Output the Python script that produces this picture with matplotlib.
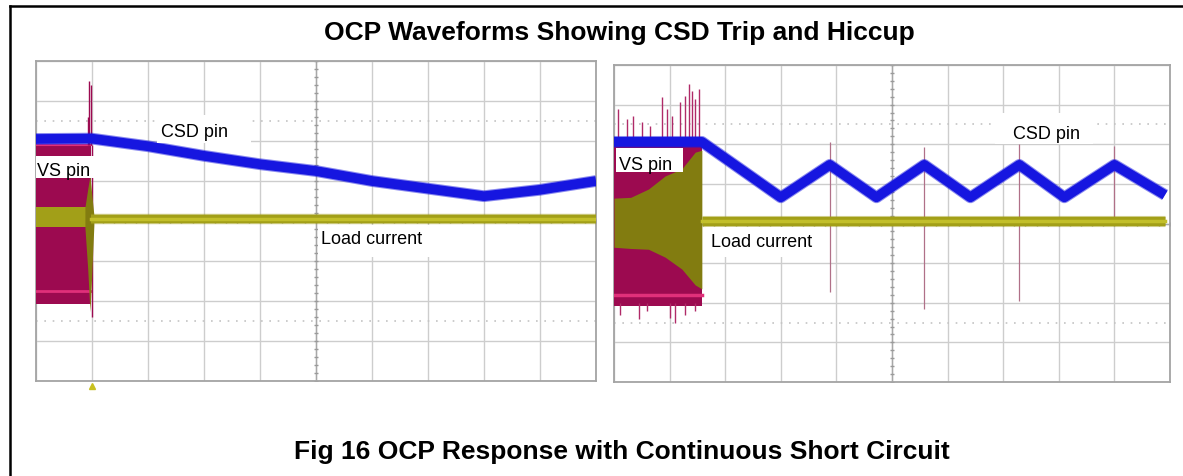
import numpy as np
import matplotlib.pyplot as plt
from matplotlib.lines import Line2D
from matplotlib.patches import Rectangle

W, H = 1183, 477

# ---- left capture: CSD trip (screen divisions, x 0..10, y -4..4) ----
csd_left_x = [0, 1.0, 2, 3, 4, 5, 6, 7, 8, 9, 10]
csd_left_y = [2.05, 2.06, 1.87, 1.63, 1.42, 1.25, 1.0, 0.81, 0.62, 0.78, 1.0]

vs_left_x = [0, 0.98]
vs_left_top = [1.9, 1.9]
vs_left_bot = [-2.07, -2.07]
vs_left_pink = [-1.76, -1.76]

load_left_pre_x = [0, 0.9]
load_left_pre_top = [0.34, 0.34]
load_left_pre_bot = [-0.16, -0.16]
load_left_x = [0.98, 10]
load_left_y = [0.05, 0.05]
spindle_left_x = [0.88, 0.93, 0.97, 1.0, 1.04]
spindle_left_top = [0.34, 0.8, 1.13, 0.7, 0.15]
spindle_left_bot = [-0.16, -1.2, -2.27, -1.4, -0.1]

spike_left_x = [0.93, 0.96, 0.98, 1.0]
spike_left_top = [2.6, 3.5, 3.4, 1.9]
spike_left_bot = [1.9, 1.9, 1.9, -2.4]

# ---- right capture: hiccup ----
csd_right_x = [0, 1.58, 3.0, 3.88, 4.72, 5.58, 6.41, 7.29, 8.1, 9.0, 9.91]
csd_right_y = [2.06, 2.06, 0.66, 1.48, 0.66, 1.48, 0.66, 1.48, 0.66, 1.48, 0.72]

vs_right_x = [0, 1.58]
vs_right_top = [1.96, 1.96]
vs_right_bot = [-2.08, -2.08]
vs_right_pink = [-1.8, -1.8]

load_right_pre_x = [0, 0.3, 0.62, 0.92, 1.22, 1.46, 1.58]
load_right_pre_top = [0.64, 0.66, 0.87, 1.2, 1.38, 1.8, 1.85]
load_right_pre_bot = [-0.6, -0.63, -0.65, -0.85, -1.15, -1.55, -1.65]
load_right_x = [1.58, 9.91]
load_right_y = [0.07, 0.07]

spike_right_x = [3.88, 5.58, 7.29, 9.0]
spike_right_top = [2.06, 1.92, 2.0, 1.96]
spike_right_bot = [-1.73, -2.16, -1.95, 0.0]

noise_up_x = [0.08, 0.23, 0.35, 0.5, 0.65, 0.86, 0.95, 1.04, 1.19, 1.28, 1.34, 1.4, 1.46, 1.52]
noise_up_top = [2.89, 2.64, 2.72, 2.55, 2.47, 3.19, 2.89, 2.72, 3.06, 3.23, 3.52, 3.35, 3.14, 3.4]
noise_dn_x = [0.1, 0.45, 0.6, 1.0, 1.1, 1.28, 1.45]
noise_dn_bot = [-2.3, -2.42, -2.2, -2.38, -2.5, -2.3, -2.2]

BLUE = '#1616e0'
MAG = '#9c0a50'
PINK = '#e0307a'
OLIVE = '#a29f18'
OLIVE_DK = '#827c10'
YEL = '#c2bf2a'

plt.rcParams['font.family'] = ['Liberation Sans', 'DejaVu Sans']
fig = plt.figure(figsize=(W / 100, H / 100), dpi=100)


def px_axes(x0, y0, x1, y1):
    return fig.add_axes([x0 / W, 1 - y1 / H, (x1 - x0) / W, (y1 - y0) / H])


def scope_grid(ax):
    ax.set_xlim(0, 10)
    ax.set_ylim(-4, 4)
    ax.set_xticks(range(11))
    ax.set_yticks(range(-4, 5))
    ax.tick_params(length=0, labelbottom=False, labelleft=False)
    ax.grid(True, color='#cdcdcd', lw=1)
    ax.set_axisbelow(True)
    for s in ax.spines.values():
        s.set_color('#a4a4a4')
        s.set_linewidth(1.3)
    for yy in (2.5, -2.5):
        ax.axhline(yy, ls=(0, (1, 4)), color='#c4c4c4', lw=1.2, zorder=1)
    ax.axvline(5, color='#a8a8a8', lw=1, zorder=1)
    ax.axhline(0, color='#a8a8a8', lw=1, zorder=1)
    fine = np.arange(0, 10.01, 0.2)
    ax.plot(fine, np.zeros_like(fine), ls='none', marker='|', ms=3, color='#9a9a9a', zorder=1)
    fine_y = np.arange(-4, 4.01, 0.2)
    ax.plot(np.full_like(fine_y, 5), fine_y, ls='none', marker='_', ms=3, color='#9a9a9a', zorder=1)


def band(ax, x, y, color, lw, z):
    ax.plot(x, y, color=color, lw=lw + 1.5, alpha=0.5, solid_capstyle='butt', zorder=z)
    ax.plot(x, y, color=color, lw=lw, solid_capstyle='butt', zorder=z)


# left panel
axl = px_axes(35.6, 62, 596, 382)
scope_grid(axl)
axl.fill_between(vs_left_x, vs_left_bot, vs_left_top, color=MAG, lw=0, zorder=3)
axl.plot(vs_left_x, vs_left_pink, color=PINK, lw=2, zorder=3)
axl.plot(vs_left_x, vs_left_top, color=PINK, lw=1.5, zorder=3)
axl.vlines(spike_left_x, spike_left_bot, spike_left_top, color=MAG, lw=1, zorder=3)
axl.fill_between(load_left_pre_x, load_left_pre_bot, load_left_pre_top, color=OLIVE, lw=0, zorder=4)
axl.fill_between(spindle_left_x, spindle_left_bot, spindle_left_top, color=OLIVE_DK, lw=0, zorder=4)
band(axl, load_left_x, load_left_y, OLIVE, 6, 4)
axl.plot(load_left_x, load_left_y, color=YEL, lw=2.5, zorder=4)
band(axl, csd_left_x, csd_left_y, BLUE, 7, 5)
axl.plot([1], [-4.12], marker='^', ms=4, color='#c8c020', clip_on=False, zorder=6)

# right panel
axr = px_axes(614, 66, 1170, 383)
scope_grid(axr)
axr.fill_between(vs_right_x, vs_right_bot, vs_right_top, color=MAG, lw=0, zorder=3)
axr.plot(vs_right_x, vs_right_pink, color=PINK, lw=2.5, zorder=3)
axr.vlines(noise_up_x, 2.0, noise_up_top, color='#b02a68', lw=1, zorder=3)
axr.vlines(noise_dn_x, noise_dn_bot, -2.0, color='#b02a68', lw=1, zorder=3)
axr.vlines(spike_right_x, spike_right_bot, spike_right_top, color='#b07088', lw=0.9, zorder=3)
axr.fill_between(load_right_pre_x, load_right_pre_bot, load_right_pre_top, color=OLIVE_DK, lw=0, zorder=4)
band(axr, load_right_x, load_right_y, OLIVE, 6.5, 4)
axr.plot(load_right_x, load_right_y, color=YEL, lw=2.5, zorder=4)
band(axr, csd_right_x, csd_right_y, BLUE, 7, 5)

# label boxes (pixel layout)
labels = [
    ("VS pin", 37, 176.5, (35.6, 157, 93.5, 179)),
    ("CSD pin", 161, 137, (157, 116, 251, 144)),
    ("Load current", 321, 244, (318, 226, 463, 258)),
    ("VS pin", 619, 170, (616, 149, 683, 173)),
    ("CSD pin", 1013, 139, (995, 114, 1093, 145)),
    ("Load current", 711, 247.5, (706, 228, 825, 258)),
]
for txt, tx, ty, (bx0, by0, bx1, by1) in labels:
    fig.add_artist(Rectangle((bx0 / W, 1 - by1 / H), (bx1 - bx0) / W, (by1 - by0) / H,
                             transform=fig.transFigure, facecolor='white', edgecolor='none', zorder=5))
    fig.text(tx / W, 1 - ty / H, txt, fontsize=13, va='baseline', ha='left', color='black', zorder=6)

fig.text(619 / W, 1 - 40 / H, "OCP Waveforms Showing CSD Trip and Hiccup",
         fontsize=19, fontweight='bold', ha='center', va='baseline')
fig.text(622 / W, 1 - 459 / H, "Fig 16 OCP Response with Continuous Short Circuit",
         fontsize=19, fontweight='bold', ha='center', va='baseline')

# outer document frame
fig.add_artist(Line2D([9.6 / W, 9.6 / W], [0, 1 - 7.3 / H], color='black', lw=1.8, transform=fig.transFigure))
fig.add_artist(Line2D([9.6 / W, 1], [1 - 7.3 / H, 1 - 7.3 / H], color='black', lw=1.8, transform=fig.transFigure))

fig.savefig("out.png", dpi=100)
